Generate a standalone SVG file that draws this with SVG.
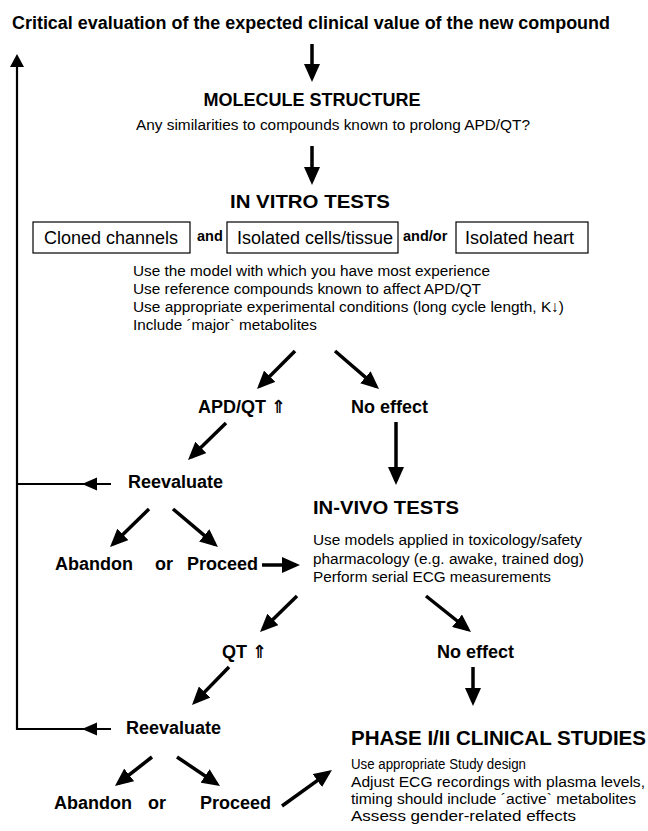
<svg xmlns="http://www.w3.org/2000/svg" width="648" height="831" viewBox="0 0 648 831">
<style>
text{font-family:"Liberation Sans",Arial,"DejaVu Sans",sans-serif;fill:#000}
.h{font-weight:bold;font-size:18px}
.h2{font-weight:bold;font-size:20px}
.b{font-weight:bold;font-size:18px}
.s{font-weight:bold;font-size:14.5px}
.t{font-size:15.5px}
.bx{font-size:18px}
.box{fill:#fff;stroke:#000;stroke-width:1.2}
.c line{stroke:#000;stroke-width:3.5;marker-end:url(#ah)}
.loop{fill:none;stroke:#000;stroke-width:2.2}
</style>
<defs>
<marker id="ah" markerUnits="userSpaceOnUse" markerWidth="18" markerHeight="16" viewBox="0 0 18 16" refX="14" refY="8" orient="auto">
<path d="M0,0 L18,8 L0,16 z" fill="#000"/>
</marker>
</defs>
<rect width="648" height="831" fill="#fff"/>

<g id="title"><text class="h" x="12" y="29" textLength="598" lengthAdjust="spacingAndGlyphs">Critical evaluation of the expected clinical value of the new compound</text></g>

<g id="molecule">
<text class="h" x="312" y="106" text-anchor="middle">MOLECULE STRUCTURE</text>
<text class="t" x="136" y="130" textLength="394" lengthAdjust="spacingAndGlyphs">Any similarities to compounds known to prolong APD/QT?</text>
</g>

<g id="invitro">
<text class="h" x="230" y="208" textLength="160" lengthAdjust="spacingAndGlyphs">IN VITRO TESTS</text>
</g>
<g id="box-cloned"><rect class="box" x="33" y="222" width="157" height="31"/><text class="bx" x="44" y="244">Cloned channels</text></g>
<text class="s" x="197" y="241">and</text>
<g id="box-cells"><rect class="box" x="227" y="222" width="171" height="31"/><text class="bx" x="237" y="244">Isolated cells/tissue</text></g>
<text class="s" x="403" y="241">and/or</text>
<g id="box-heart"><rect class="box" x="456" y="222" width="132" height="31"/><text class="bx" x="465" y="244">Isolated heart</text></g>
<g id="invitro-notes">
<text class="t" x="133" y="276" textLength="357" lengthAdjust="spacingAndGlyphs">Use the model with which you have most experience</text>
<text class="t" x="133" y="294" textLength="348" lengthAdjust="spacingAndGlyphs">Use reference compounds known to affect APD/QT</text>
<text class="t" x="133" y="312" textLength="431" lengthAdjust="spacingAndGlyphs">Use appropriate experimental conditions (long cycle length, K↓)</text>
<text class="t" x="133" y="330" textLength="184" lengthAdjust="spacingAndGlyphs">Include ´major` metabolites</text>
</g>

<g id="apd"><text class="b" x="198" y="413">APD/QT ⇑</text></g>
<g id="noeffect1"><text class="b" x="351" y="413">No effect</text></g>
<g id="reeval1"><text class="b" x="128" y="488">Reevaluate</text></g>
<g id="invivo">
<text class="h" x="313" y="514" textLength="146" lengthAdjust="spacingAndGlyphs">IN-VIVO TESTS</text>
<text class="t" x="313" y="545" textLength="269" lengthAdjust="spacingAndGlyphs">Use models applied in toxicology/safety</text>
<text class="t" x="313" y="564" textLength="271" lengthAdjust="spacingAndGlyphs">pharmacology (e.g. awake, trained dog)</text>
<text class="t" x="313" y="582" textLength="238" lengthAdjust="spacingAndGlyphs">Perform serial ECG measurements</text>
</g>
<g id="abandon1"><text class="b" x="55" y="570">Abandon</text></g>
<text class="b" x="155" y="570">or</text>
<g id="proceed1"><text class="b" x="187" y="570">Proceed</text></g>

<g id="qt"><text class="b" x="222" y="658">QT ⇑</text></g>
<g id="noeffect2"><text class="b" x="437" y="658">No effect</text></g>
<g id="reeval2"><text class="b" x="126" y="734">Reevaluate</text></g>
<g id="abandon2"><text class="b" x="54" y="809">Abandon</text></g>
<text class="b" x="148" y="809">or</text>
<g id="proceed2"><text class="b" x="200" y="809">Proceed</text></g>
<g id="phase">
<text class="h2" x="351" y="745" textLength="295" lengthAdjust="spacingAndGlyphs">PHASE I/II CLINICAL STUDIES</text>
<text class="t" x="351" y="769" textLength="175" lengthAdjust="spacingAndGlyphs">Use appropriate Study design</text>
<text class="t" x="351" y="787" textLength="294" lengthAdjust="spacingAndGlyphs">Adjust ECG recordings with plasma levels,</text>
<text class="t" x="351" y="804" textLength="285" lengthAdjust="spacingAndGlyphs">timing should include ´active` metabolites</text>
<text class="t" x="351" y="821" textLength="225" lengthAdjust="spacingAndGlyphs">Assess gender-related effects</text>
</g>

<g id="connectors" class="c">
<line x1="312" y1="44" x2="312" y2="78"/>
<line x1="312" y1="146" x2="312" y2="181"/>
<line x1="295" y1="351" x2="259.8" y2="386.2"/>
<line x1="335" y1="351" x2="376" y2="386.4"/>
<line x1="226" y1="423" x2="190.9" y2="457.2"/>
<line x1="396" y1="422" x2="396" y2="481"/>
<line x1="149" y1="509" x2="112.9" y2="544.2"/>
<line x1="173" y1="509" x2="214.9" y2="544.4"/>
<line x1="262" y1="565" x2="296" y2="565"/>
<line x1="297" y1="596" x2="262.9" y2="629.2"/>
<line x1="426" y1="596" x2="467.9" y2="629.5"/>
<line x1="229" y1="667" x2="194.8" y2="702.1"/>
<line x1="473" y1="667" x2="473" y2="702"/>
<line x1="152" y1="757" x2="118.1" y2="783.5"/>
<line x1="177" y1="757" x2="216.7" y2="783.8"/>
<line x1="282" y1="806" x2="328.7" y2="772.4"/>
<path class="loop" d="M17,62 V729 H111 M17,484 H111"/>
<path d="M17,54 L10,67 L24,67 z M82,484 L97,477.5 L97,490.5 z M82,729 L97,722.5 L97,735.5 z" fill="#000"/>
</g>
</svg>
